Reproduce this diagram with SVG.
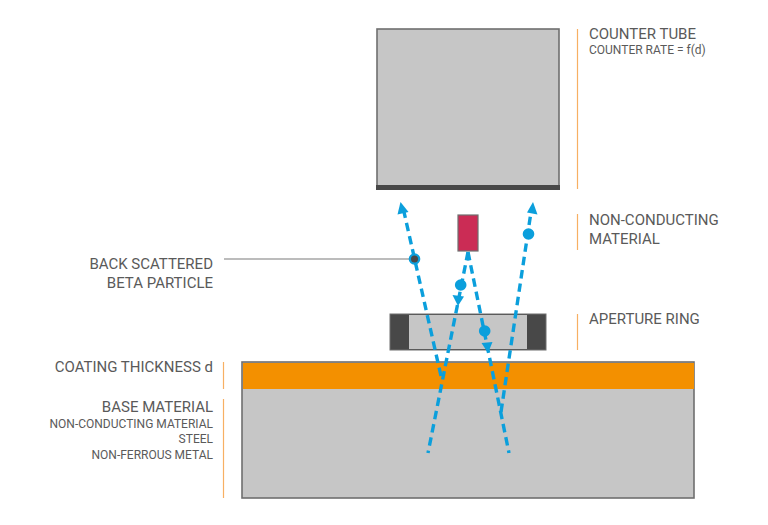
<svg xmlns="http://www.w3.org/2000/svg" width="768" height="525" viewBox="0 0 768 525">
<style>
.box{fill:#c6c6c6;stroke:#6f6f6f;stroke-width:1.600}
.dark{fill:#484848}
.tick{stroke:#f7b063;stroke-width:1.200;fill:none}
.ray{stroke:#0b9fdc;stroke-width:3.400;stroke-dasharray:8.500 5;fill:none}
.head{fill:#0b9fdc}
.dot{fill:#0b9fdc}
text{font-family:"Roboto","Liberation Sans",sans-serif;fill:#5a5a5a}
.l{font-size:15px}
.s{font-size:12px}
.e{text-anchor:end}
</style>
<rect width="768" height="525" fill="#ffffff"/>
<g id="counter-tube">
<rect class="box" x="377" y="29" width="182" height="160"/>
<rect class="dark" x="376" y="185" width="184" height="5"/>
</g>
<g id="non-conducting-material">
<rect x="458" y="215" width="20" height="36" fill="#cb2c55" stroke="#6f6f6f" stroke-width="1.200"/>
</g>
<g id="aperture-ring">
<rect class="dark" x="390" y="314" width="156" height="36"/>
<rect x="409" y="315" width="118" height="34" fill="#c6c6c6"/>
<rect x="390" y="314" width="156" height="36" fill="none" stroke="#6f6f6f" stroke-width="1"/>
</g>
<g id="base-material">
<rect class="box" x="242" y="362" width="452" height="136"/>
</g>
<g id="coating">
<rect x="243" y="363" width="451" height="26" fill="#f39000"/>
</g>
<g id="connectors">
<path class="tick" d="M577.500 29V189M577.500 214V250M577.500 314V350M223.500 362V389M223.500 399V498"/>
<path d="M224 259H414" stroke="#7a7a7a" stroke-width="1.200" fill="none"/>
<path class="ray" d="M468 252L428 453"/>
<path class="ray" d="M468 252L509 453"/>
<path class="ray" d="M441 376L404 212"/>
<path class="ray" d="M501 412L531 212"/>
<polygon class="head" points="400.500,202 408.500,212 397.500,214.500"/>
<polygon class="head" points="533,202 537.500,214.500 527,212.500"/>
<polygon class="head" points="458,306 452.500,295 464,296.500"/>
<polygon class="head" points="488,353 481.500,343 492.500,342"/>
</g>
<g id="particles">
<circle class="dot" cx="414.500" cy="259" r="5.800"/>
<circle class="dark" cx="414.500" cy="259" r="3.500"/>
<circle class="dot" cx="528.500" cy="234" r="5.800"/>
<circle class="dot" cx="460.700" cy="285" r="5.800"/>
<circle class="dot" cx="484.700" cy="331" r="5.800"/>
</g>
<g id="labels">
<text class="l" x="589" y="39">COUNTER TUBE</text>
<text class="s" x="589" y="54">COUNTER RATE = f(d)</text>
<text class="l" x="589" y="225">NON-CONDUCTING</text>
<text class="l" x="589" y="244">MATERIAL</text>
<text class="l" x="589" y="324">APERTURE RING</text>
<text class="l e" x="213" y="269">BACK SCATTERED</text>
<text class="l e" x="213" y="288">BETA PARTICLE</text>
<text class="l e" x="213" y="372">COATING THICKNESS d</text>
<text class="l e" x="213" y="412">BASE MATERIAL</text>
<text class="s e" x="213" y="428">NON-CONDUCTING MATERIAL</text>
<text class="s e" x="213" y="443">STEEL</text>
<text class="s e" x="213" y="459">NON-FERROUS METAL</text>
</g>
</svg>
